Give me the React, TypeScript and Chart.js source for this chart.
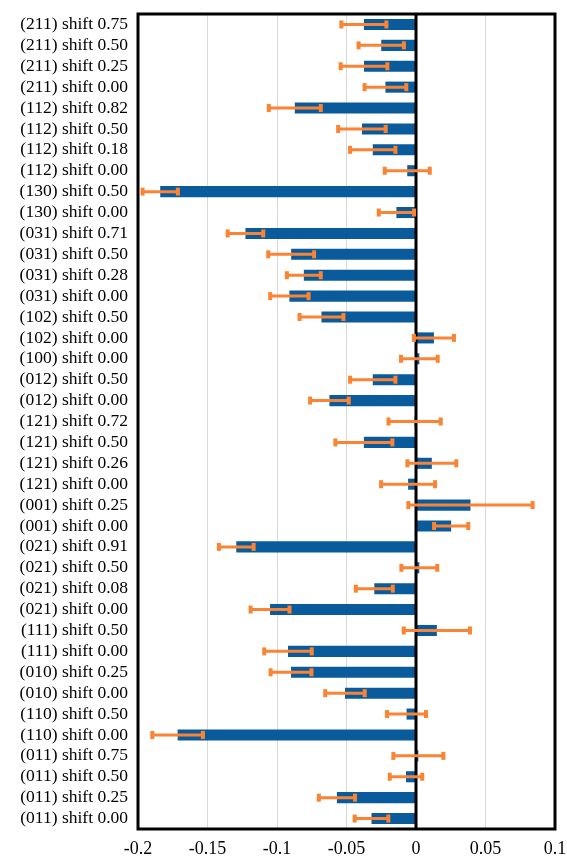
import React, { useEffect, useRef } from "react";
import { Chart, registerables } from "chart.js";

Chart.register(...registerables);

const labels = [
  "(211) shift 0.75", "(211) shift 0.50", "(211) shift 0.25", "(211) shift 0.00",
  "(112) shift 0.82", "(112) shift 0.50", "(112) shift 0.18", "(112) shift 0.00",
  "(130) shift 0.50", "(130) shift 0.00",
  "(031) shift 0.71", "(031) shift 0.50", "(031) shift 0.28", "(031) shift 0.00",
  "(102) shift 0.50", "(102) shift 0.00", "(100) shift 0.00",
  "(012) shift 0.50", "(012) shift 0.00",
  "(121) shift 0.72", "(121) shift 0.50", "(121) shift 0.26", "(121) shift 0.00",
  "(001) shift 0.25", "(001) shift 0.00",
  "(021) shift 0.91", "(021) shift 0.50", "(021) shift 0.08", "(021) shift 0.00",
  "(111) shift 0.50", "(111) shift 0.00",
  "(010) shift 0.25", "(010) shift 0.00",
  "(110) shift 0.50", "(110) shift 0.00",
  "(011) shift 0.75", "(011) shift 0.50", "(011) shift 0.25", "(011) shift 0.00",
];

const values = [
  -0.0375, -0.025, -0.0374, -0.022,
  -0.0872, -0.0389, -0.0311, -0.0063,
  -0.184, -0.0141,
  -0.1227, -0.0898, -0.0807, -0.0911,
  -0.068, 0.0129, 0.0024,
  -0.0311, -0.0623,
  -0.001, -0.0375, 0.0114, -0.0057,
  0.0392, 0.0253,
  -0.1293, 0.0024, -0.030, -0.105,
  0.015, -0.0921,
  -0.0899, -0.0511,
  -0.0068, -0.1715,
  0.0017, -0.0072, -0.0569, -0.032,
];

const errors = [
  0.0162, 0.0163, 0.0168, 0.015,
  0.0187, 0.0171, 0.0163, 0.0162,
  0.0127, 0.0127,
  0.0128, 0.0165, 0.0122, 0.0138,
  0.0158, 0.0144, 0.0132,
  0.0163, 0.0139,
  0.0188, 0.0205, 0.0176, 0.0194,
  0.0447, 0.0123,
  0.0125, 0.0129, 0.0133, 0.014,
  0.0238, 0.0171,
  0.0147, 0.0142,
  0.014, 0.0182,
  0.018, 0.0117, 0.013, 0.0121,
];

const xTicks = [-0.2, -0.15, -0.1, -0.05, 0, 0.05, 0.1];

const BAR_COLOR = "#0A5B9C";
const ERR_COLOR = "#FA8434";
const FONT = "'Liberation Serif', 'Times New Roman', serif";

const overlayPlugin = {
  id: "overlay",
  afterDatasetsDraw(chart: any) {
    const ctx = chart.ctx;
    const xs = chart.scales.x;
    const area = chart.chartArea;
    ctx.save();
    const x0 = xs.getPixelForValue(0);
    ctx.strokeStyle = "#000";
    ctx.lineWidth = 3;
    ctx.beginPath();
    ctx.moveTo(x0, area.top);
    ctx.lineTo(x0, area.bottom);
    ctx.stroke();
    const meta = chart.getDatasetMeta(0);
    ctx.strokeStyle = ERR_COLOR;
    ctx.fillStyle = ERR_COLOR;
    ctx.lineWidth = 3;
    meta.data.forEach((bar: any, i: number) => {
      const y = bar.y;
      const xl = xs.getPixelForValue(values[i] - errors[i]);
      const xr = xs.getPixelForValue(values[i] + errors[i]);
      ctx.beginPath();
      ctx.moveTo(xl, y);
      ctx.lineTo(xr, y);
      ctx.stroke();
      ctx.fillRect(xl - 2, y - 4, 4, 8);
      ctx.fillRect(xr - 2, y - 4, 4, 8);
    });
    ctx.strokeStyle = "#000";
    ctx.lineWidth = 3;
    ctx.strokeRect(area.left, area.top, area.right - area.left, area.bottom - area.top);
    ctx.restore();
  },
};

export default function App() {
  const ref = useRef<HTMLCanvasElement | null>(null);
  useEffect(() => {
    if (!ref.current) return;
    const chart = new Chart(ref.current, {
      type: "bar",
      data: {
        labels,
        datasets: [
          {
            data: values,
            backgroundColor: BAR_COLOR,
            borderWidth: 0,
            barPercentage: 0.53,
            categoryPercentage: 1,
          },
        ],
      },
      options: {
        indexAxis: "y",
        animation: false,
        responsive: true,
        maintainAspectRatio: false,
        layout: { padding: { top: 14, right: 12, bottom: 0, left: 0 } },
        plugins: { legend: { display: false }, tooltip: { enabled: false } },
        scales: {
          x: {
            type: "linear",
            min: -0.2,
            max: 0.1,
            afterBuildTicks: (scale: any) => {
              scale.ticks = xTicks.map((v) => ({ value: v }));
            },
            afterFit: (scale: any) => {
              scale.height = 30;
              scale.paddingLeft = 0;
              scale.paddingRight = 0;
            },
            ticks: {
              color: "#000",
              font: { family: FONT, size: 18 },
              padding: 9,
              callback: (v: any) => String(Math.round(Number(v) * 100) / 100),
            },
            grid: { color: "#d9d9d9", lineWidth: 1, drawTicks: false },
            border: { display: false },
          },
          y: {
            type: "category",
            afterFit: (scale: any) => {
              scale.width = 138;
              scale.paddingTop = 0;
              scale.paddingBottom = 0;
            },
            ticks: {
              color: "#000",
              font: { family: FONT, size: 17.5 },
              padding: 10,
              autoSkip: false,
            },
            grid: { display: false, drawTicks: false },
            border: { display: false },
          },
        },
      },
      plugins: [overlayPlugin],
    });
    return () => chart.destroy();
  }, []);
  return (
    <div style={{ position: "fixed", left: 0, top: 0, width: 567, height: 859, background: "#fff" }}>
      <canvas ref={ref} />
    </div>
  );
}
